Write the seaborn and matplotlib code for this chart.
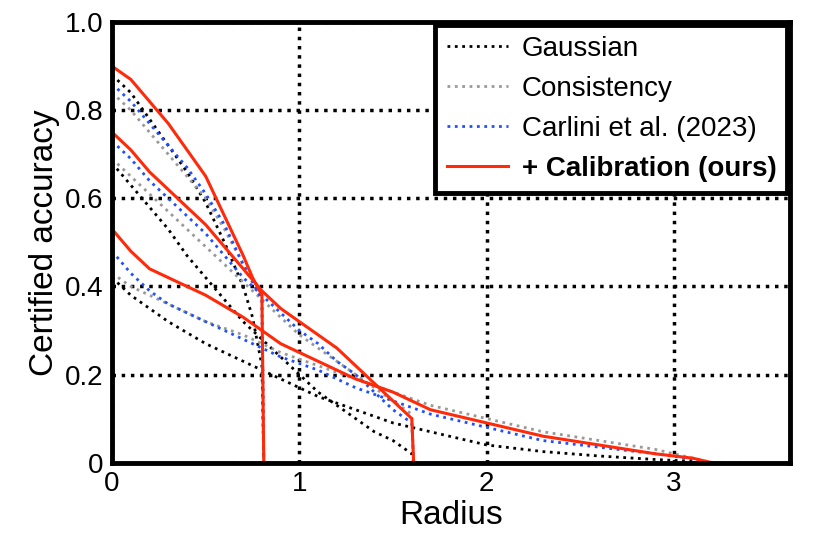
import numpy as np
import pandas as pd
import matplotlib
matplotlib.use("Agg")
import matplotlib.pyplot as plt
import seaborn as sns

plt.rcParams["font.family"] = "Liberation Sans"

# radius grid points and certified accuracy per method / noise level
r25 = [0, 0.1, 0.2, 0.3, 0.4, 0.5, 0.6, 0.7, 0.75, 0.8, 0.81]
r50 = [0, 0.1, 0.2, 0.3, 0.4, 0.5, 0.6, 0.7, 0.8, 0.9, 1.0, 1.1, 1.2, 1.3, 1.4, 1.5, 1.6, 1.61]
r100 = [0, 0.1, 0.2, 0.3, 0.5, 0.7, 0.9, 1.1, 1.3, 1.5, 1.7, 2.0, 2.3, 2.6, 2.9, 3.1, 3.2]

gauss_25 = [0.88, 0.84, 0.78, 0.72, 0.66, 0.59, 0.50, 0.40, 0.33, 0.22, 0.0]
gauss_50 = [0.68, 0.63, 0.58, 0.53, 0.47, 0.42, 0.37, 0.32, 0.28, 0.24, 0.20, 0.16, 0.13, 0.10, 0.07, 0.05, 0.02, 0.0]
gauss_100 = [0.42, 0.38, 0.35, 0.32, 0.27, 0.23, 0.19, 0.15, 0.12, 0.09, 0.07, 0.04, 0.025, 0.015, 0.007, 0.003, 0.0]

cons_25 = [0.84, 0.80, 0.75, 0.70, 0.65, 0.60, 0.53, 0.45, 0.41, 0.37, 0.0]
cons_50 = [0.69, 0.65, 0.61, 0.57, 0.53, 0.49, 0.45, 0.41, 0.37, 0.33, 0.29, 0.26, 0.23, 0.20, 0.17, 0.14, 0.11, 0.0]
cons_100 = [0.43, 0.40, 0.38, 0.36, 0.32, 0.29, 0.25, 0.22, 0.19, 0.16, 0.13, 0.10, 0.07, 0.05, 0.03, 0.01, 0.0]

carl_25 = [0.86, 0.82, 0.77, 0.72, 0.67, 0.61, 0.54, 0.45, 0.41, 0.37, 0.0]
carl_50 = [0.73, 0.69, 0.64, 0.60, 0.56, 0.52, 0.47, 0.42, 0.38, 0.34, 0.30, 0.27, 0.23, 0.20, 0.16, 0.12, 0.09, 0.0]
carl_100 = [0.48, 0.43, 0.39, 0.36, 0.32, 0.28, 0.24, 0.21, 0.17, 0.14, 0.11, 0.08, 0.05, 0.035, 0.02, 0.008, 0.0]

cal_25 = [0.90, 0.87, 0.82, 0.77, 0.71, 0.65, 0.56, 0.47, 0.42, 0.38, 0.0]
cal_50 = [0.75, 0.71, 0.66, 0.62, 0.58, 0.54, 0.49, 0.44, 0.39, 0.35, 0.32, 0.29, 0.26, 0.22, 0.18, 0.14, 0.10, 0.0]
cal_100 = [0.53, 0.48, 0.44, 0.42, 0.38, 0.33, 0.27, 0.23, 0.19, 0.16, 0.12, 0.09, 0.06, 0.04, 0.02, 0.01, 0.0]

methods = [
    ("Gaussian", [gauss_25, gauss_50, gauss_100], "black", ":", 2.0, "normal"),
    ("Consistency", [cons_25, cons_50, cons_100], "#999999", ":", 2.0, "normal"),
    ("Carlini et al. (2023)", [carl_25, carl_50, carl_100], "#1f4fff", ":", 2.0, "normal"),
    ("+ Calibration (ours)", [cal_25, cal_50, cal_100], "#ff2a0a", "-", 2.2, "bold"),
]

fig, ax = plt.subplots(figsize=(8.3, 5.54), dpi=100)
fig.subplots_adjust(left=0.135, right=0.952, top=0.96, bottom=0.165)

for name, series, color, ls, lw, _ in methods:
    for i, (r, acc) in enumerate(zip([r25, r50, r100], series)):
        df = pd.DataFrame({"radius": r, "acc": acc})
        sns.lineplot(data=df, x="radius", y="acc", ax=ax, color=color,
                     linestyle=ls, linewidth=lw, label=name if i == 0 else None,
                     estimator=None, sort=False)

ax.set_xlim(0, 3.62)
ax.set_ylim(0, 1.0)
ax.set_xticks([0, 1, 2, 3])
ax.set_xticklabels(["0", "1", "2", "3"])
ax.set_yticks([0, 0.2, 0.4, 0.6, 0.8, 1.0])
ax.set_yticklabels(["0", "0.2", "0.4", "0.6", "0.8", "1.0"])
ax.tick_params(labelsize=20, length=0, pad=6)
ax.set_xlabel("Radius", fontsize=24, labelpad=2)
ax.set_ylabel("Certified accuracy", fontsize=24)
ax.grid(True, color="black", linestyle=":", linewidth=2.5)
ax.set_axisbelow(True)
for s in ax.spines.values():
    s.set_linewidth(3.5)
    s.set_color("black")

leg = ax.legend(loc="upper right", fontsize=20, frameon=True, fancybox=False,
                borderaxespad=0.1, handlelength=2.2, handletextpad=0.5,
                labelspacing=0.5, borderpad=0.4)
leg.get_frame().set_edgecolor("black")
leg.get_frame().set_linewidth(3.5)
leg.get_frame().set_alpha(1)
for t, m in zip(leg.get_texts(), methods):
    t.set_fontweight(m[5])

fig.savefig("out.png", dpi=100)
